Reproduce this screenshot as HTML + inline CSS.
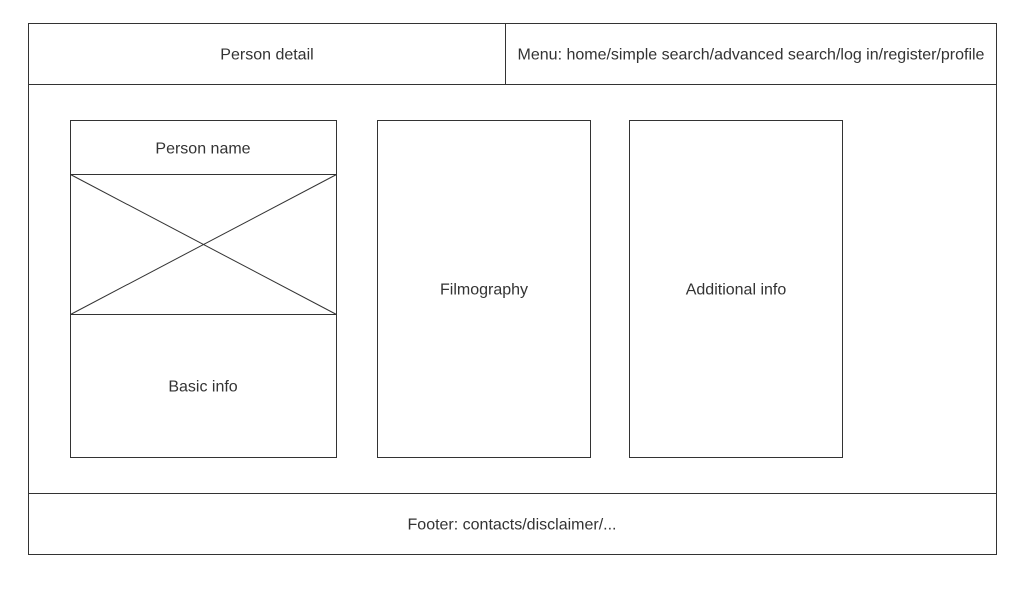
<!DOCTYPE html>
<html><head><style>
html,body{margin:0;padding:0;background:#fff;width:1024px;height:600px;overflow:hidden}
svg text{font-family:"Liberation Sans",sans-serif;font-size:16px;fill:#333;text-anchor:middle;dominant-baseline:central}
</style></head><body>
<svg width="1024" height="600" xmlns="http://www.w3.org/2000/svg">
<g fill="none" stroke="#333" stroke-width="1">
<rect x="28.5" y="23.5" width="968" height="531"/>
<line x1="28.5" y1="84.5" x2="996.5" y2="84.5"/>
<line x1="505.5" y1="23.5" x2="505.5" y2="84.5"/>
<line x1="28.5" y1="493.5" x2="996.5" y2="493.5"/>
<rect x="70.5" y="120.5" width="266" height="337"/>
<line x1="70.5" y1="174.5" x2="336.5" y2="174.5"/>
<line x1="70.5" y1="314.5" x2="336.5" y2="314.5"/>
<line x1="70.5" y1="174.5" x2="336.5" y2="314.5"/>
<line x1="336.5" y1="174.5" x2="70.5" y2="314.5"/>
<rect x="377.5" y="120.5" width="213" height="337"/>
<rect x="629.5" y="120.5" width="213" height="337"/>
</g>
<text x="267" y="55">Person detail</text>
<text x="751" y="55">Menu: home/simple search/advanced search/log in/register/profile</text>
<text x="203" y="149">Person name</text>
<text x="203" y="387">Basic info</text>
<text x="484" y="290">Filmography</text>
<text x="736" y="290">Additional info</text>
<text x="512" y="525">Footer: contacts/disclaimer/...</text>
</svg>
</body></html>
